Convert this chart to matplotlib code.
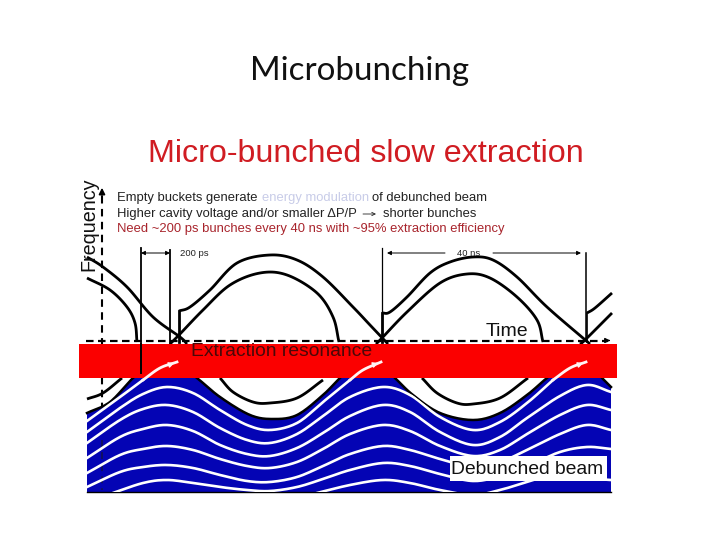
import matplotlib
matplotlib.use('Agg')
import matplotlib.pyplot as plt
from matplotlib.patches import Polygon, Rectangle
import numpy as np

# everything in pixels (x right, y down)
outer_left = [(87, 257), (103, 267), (127, 287), (153, 317), (180, 337), (187, 344)]
inner_left = [(87, 278), (110, 290), (127, 307), (135, 323), (137, 342)]
outer_1 = [(179, 311), (190, 307), (210, 290), (237, 263), (270, 255), (297, 260), (323, 277), (353, 307), (370, 325), (388, 344)]
inner_1 = [(170, 344), (179, 335), (203, 310), (230, 285), (260, 273), (287, 275), (317, 293), (333, 317), (339, 342)]
outer_2 = [(382, 313), (390, 312), (407, 297), (430, 273), (450, 262), (473, 257), (493, 260), (517, 277), (547, 307), (590, 344)]
inner_2 = [(376, 344), (382, 338), (407, 312), (440, 283), (467, 274), (490, 278), (517, 297), (537, 320), (543, 342)]
outer_3 = [(587, 313), (595, 308), (612, 293)]
inner_3 = [(580, 344), (585, 340), (612, 313)]

low_1 = [(87, 399), (103, 393), (122, 378)]
low_2 = [(220, 378), (233, 392), (253, 402), (270, 403), (297, 398), (323, 380)]
low_3 = [(422, 378), (437, 393), (457, 403), (473, 404), (500, 398), (528, 378)]

# the crests run on under the red band, where they cannot be seen
beam_top = [(87, 413), (110, 402), (133, 378), (150, 366), (180, 366), (197, 378), (220, 397), (250, 415), (273, 419),
            (297, 415), (323, 395), (340, 378), (355, 366), (382, 366), (395, 378), (413, 395), (440, 413), (473, 420),
            (500, 413), (527, 395), (547, 378), (565, 366), (590, 366), (602, 378), (611, 387)]
beam_bottom = 492

white_lines = [
    [(87, 421), (120, 397), (143, 380)],
    [(87, 432), (120, 408), (143, 394), (167, 387), (193, 393), (220, 410), (247, 425), (270, 430), (297, 423), (323, 402), (350, 380)],
    [(87, 443), (120, 420), (143, 409), (167, 405), (193, 412), (220, 428), (247, 440), (270, 443), (297, 434), (323, 416), (350, 397),
     (383, 387), (410, 395), (440, 417), (473, 430), (500, 422), (527, 403), (553, 380)],
    [(87, 458), (120, 437), (143, 429), (167, 425), (193, 431), (220, 445), (247, 454), (270, 456), (297, 448), (323, 433), (350, 416),
     (383, 405), (410, 412), (440, 432), (473, 445), (500, 437), (527, 418), (560, 396), (587, 385), (611, 392)],
    [(87, 473), (120, 455), (143, 449), (167, 446), (193, 450), (220, 459), (247, 466), (270, 468), (297, 462), (323, 449), (350, 434),
     (383, 425), (410, 431), (440, 446), (473, 456), (500, 450), (527, 434), (560, 415), (587, 405), (611, 410)],
    [(87, 487), (120, 472), (143, 467), (167, 465), (193, 468), (220, 475), (247, 481), (270, 482), (297, 477), (323, 466), (350, 454),
     (383, 446), (410, 450), (440, 459), (473, 467), (500, 462), (527, 450), (560, 434), (587, 425), (611, 430)],
    [(110, 494), (143, 483), (167, 480), (193, 483), (220, 487), (247, 490), (270, 491), (297, 487), (323, 479), (350, 470),
     (383, 463), (410, 466), (440, 474), (473, 481), (500, 476), (527, 466), (560, 452), (587, 447), (611, 449)],
    [(313, 494), (350, 485), (383, 480), (410, 483), (440, 490), (473, 495), (500, 490), (527, 482), (560, 473), (587, 478), (611, 480)],
]
arrow_tails = [
    [(143, 380), (160, 368), (177, 362)],
    [(350, 380), (363, 370), (381, 362)],
    [(553, 380), (570, 368), (586, 362)],
]


def smooth(points, n=14):
    # catmull-rom through the read points, just so the curves don't look polygonal
    p = np.array(points, dtype=float)
    if len(p) < 3:
        return p[:, 0], p[:, 1]
    p = np.vstack([2 * p[0] - p[1], p, 2 * p[-1] - p[-2]])
    out = []
    t = np.linspace(0, 1, n)[:, None]
    for i in range(1, len(p) - 2):
        a, b, c, d = p[i - 1], p[i], p[i + 1], p[i + 2]
        out.append(0.5 * (2 * b + (c - a) * t + (2 * a - 5 * b + 4 * c - d) * t ** 2 + (3 * b - a - 3 * c + d) * t ** 3))
    out = np.vstack(out)
    return out[:, 0], out[:, 1]


plt.rcParams['font.family'] = 'Liberation Sans'

fig = plt.figure(figsize=(7.2, 5.4), dpi=100, facecolor='white')
ax = fig.add_axes([0, 0, 1, 1])
ax.set_xlim(0, 720)
ax.set_ylim(540, 0)
ax.axis('off')

# bucket curves
for curve in [outer_left, inner_left, outer_1, inner_1, outer_2, inner_2, outer_3, inner_3, low_1, low_2, low_3]:
    ax.plot(*smooth(curve), color='black', lw=2.0, zorder=2, solid_capstyle='butt')

# verticals from the frequency rise
ax.plot([179, 179], [311, 342], color='black', lw=2.0, zorder=2)
ax.plot([382, 382], [313, 342], color='black', lw=2.0, zorder=2)
ax.plot([586.5, 586.5], [313, 342], color='black', lw=1.2, zorder=2)
ax.plot([141, 141], [248, 373], color='black', lw=1.3, zorder=6)
ax.plot([170, 170], [250, 344], color='black', lw=1.3, zorder=2)
ax.plot([382, 382], [248, 340], color='black', lw=0.9, zorder=2)
ax.plot([586, 586], [253, 340], color='black', lw=1.1, zorder=2)

# dashed axes
ax.plot([102, 102], [196, 492], color='black', lw=1.5, ls=(0, (3.6, 2.6)), zorder=2)
ax.annotate('', xy=(102, 185), xytext=(102, 198), arrowprops=dict(arrowstyle='-|>', color='black', lw=1.2, mutation_scale=9))
ax.plot([86, 608], [340.5, 340.5], color='black', lw=1.6, ls=(0, (3.4, 2.0)), zorder=3)
ax.annotate('', xy=(613, 340.5), xytext=(606, 340.5), arrowprops=dict(arrowstyle='-|>', color='black', lw=1, mutation_scale=7))

# debunched beam
top_x, top_y = smooth(beam_top)
beam = Polygon(list(zip(top_x, top_y)) + [(611, beam_bottom), (87, beam_bottom)], closed=True,
               facecolor='#0404b4', edgecolor='none', zorder=3)
ax.add_patch(beam)
ax.plot(top_x, top_y, color='black', lw=1.8, zorder=3.5)
ax.plot([87, 611], [beam_bottom, beam_bottom], color='black', lw=1, zorder=3.5)
ax.plot([102, 102], [440, 490], color='#101060', lw=1.4, ls=(0, (3.6, 2.6)), zorder=3.6)
for wl in white_lines:
    line, = ax.plot(*smooth(wl), color='white', lw=1.9, zorder=4)
    line.set_clip_path(beam)

# red band
ax.add_patch(Rectangle((79, 344), 538, 34, facecolor='#fb0000', edgecolor='none', zorder=5))
ax.plot([141, 141], [344, 373], color='black', lw=1.3, zorder=6)

# white arrows coming out of the beam
for tail in arrow_tails:
    ax.plot(*smooth(tail), color='#fff4f4', lw=2.0, zorder=6)
    ax.annotate('', xy=tail[-1], xytext=(tail[-1][0] - 7, tail[-1][1] + 2.5), zorder=6,
                arrowprops=dict(arrowstyle='-|>', color='#fff4f4', lw=1, mutation_scale=8))

# width arrows
ax.annotate('', xy=(141, 253), xytext=(170, 253), arrowprops=dict(arrowstyle='<|-|>', color='black', lw=0.7, mutation_scale=6, shrinkA=0, shrinkB=0))
ax.annotate('', xy=(387, 253), xytext=(445, 253), arrowprops=dict(arrowstyle='-|>', color='black', lw=0.7, mutation_scale=6, shrinkA=0, shrinkB=0))
ax.annotate('', xy=(581, 253), xytext=(493, 253), arrowprops=dict(arrowstyle='-|>', color='black', lw=0.7, mutation_scale=6, shrinkA=0, shrinkB=0))

# label box under the beam text
ax.add_patch(Rectangle((450, 456), 157, 25, facecolor='white', edgecolor='none', zorder=7))

# texts
ax.text(360, 71, 'Microbunching', family='Lato', fontsize=23.9, ha='center', va='center', color='#111111')
ax.text(148, 154, 'Micro-bunched slow extraction', fontsize=23.2, ha='left', va='center', color='#d01c22')
ax.text(117, 198, 'Empty buckets generate', fontsize=9.4, va='center', color='#222222')
ax.text(262, 198, 'energy modulation', fontsize=9.4, va='center', color='#c8cce8')
ax.text(372, 198, 'of debunched beam', fontsize=9.4, va='center', color='#222222')
ax.text(117, 214, 'Higher cavity voltage and/or smaller \u0394P/P', fontsize=9.4, va='center', color='#222222')
ax.annotate('', xy=(376, 214), xytext=(363, 214), arrowprops=dict(arrowstyle='->', color='#222222', lw=0.6, mutation_scale=6, shrinkA=0, shrinkB=0))
ax.text(383, 214, 'shorter bunches', fontsize=9.4, va='center', color='#222222')
ax.text(117, 229, 'Need ~200 ps bunches every 40 ns with ~95% extraction efficiency', fontsize=9.4, va='center', color='#a8242c')
ax.text(180, 253.5, '200 ps', fontsize=6.8, va='center', color='#222222')
ax.text(469, 253.5, '40 ns', fontsize=6.8, ha='center', va='center', color='#222222')
ax.text(89, 224, 'Frequency', fontsize=14.2, rotation=90, ha='center', va='center', color='#111111', zorder=8)
ax.text(486, 332, 'Time', fontsize=14, va='center', color='#111111', zorder=8)
ax.text(191, 352, 'Extraction resonance', fontsize=13.9, va='center', color='#4a0808', zorder=8)
ax.text(451, 470, 'Debunched beam', fontsize=13.9, va='center', color='#111111', zorder=8)

fig.savefig('out.png', dpi=100)
